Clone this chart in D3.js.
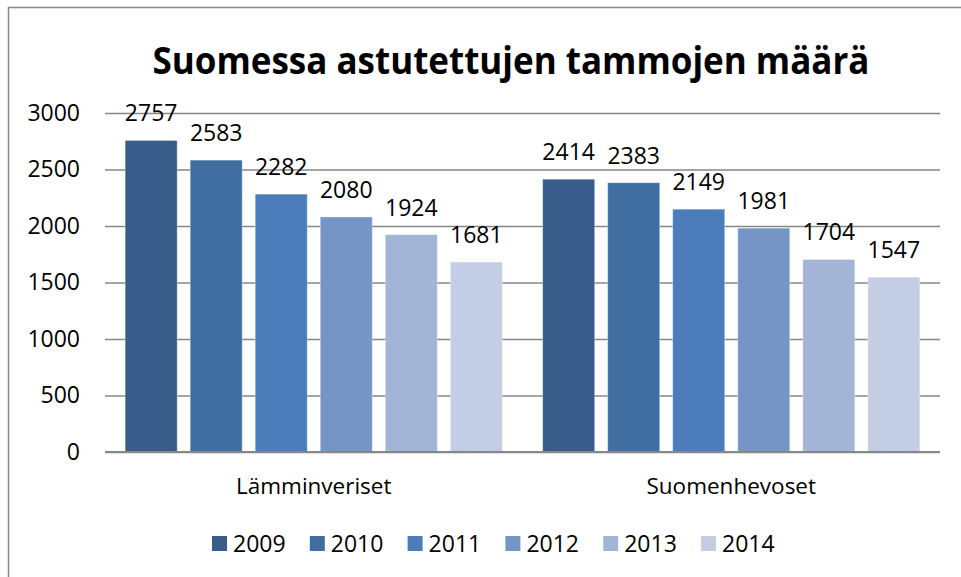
<!DOCTYPE html>
<html>
<head>
<meta charset="utf-8">
<script src="https://cdn.jsdelivr.net/npm/d3@7"></script>
<style>
  body { margin: 0; background: #fff; }
  text { font-family: "Open Sans", sans-serif; fill: #000; }
</style>
</head>
<body>
<div id="chart"></div>
<script>
var categories = ["Lämminveriset", "Suomenhevoset"];
var years = ["2009", "2010", "2011", "2012", "2013", "2014"];
var values2009 = [2757, 2414];
var values2010 = [2583, 2383];
var values2011 = [2282, 2149];
var values2012 = [2080, 1981];
var values2013 = [1924, 1704];
var values2014 = [1681, 1547];
var yTicks = [0, 500, 1000, 1500, 2000, 2500, 3000];
var colors = ["#385d8a", "#416ea1", "#4a7dba", "#7495c6", "#a3b5d6", "#c3cde3"];

var series = [values2009, values2010, values2011, values2012, values2013, values2014];

var width = 961, height = 577;
var plot = {left: 105, right: 940, top: 113, bottom: 452};

var svg = d3.select("#chart").append("svg")
  .attr("width", width)
  .attr("height", height);

// chart frame (only top and left visible in the crop)
svg.append("rect")
  .attr("x", 8.5).attr("y", 7.5)
  .attr("width", 1000).attr("height", 1000)
  .attr("fill", "none")
  .attr("stroke", "#878787")
  .attr("stroke-width", 1.5);

var x0 = d3.scaleBand()
  .domain(categories)
  .range([plot.left, plot.right])
  .padding(0);

var x1 = d3.scaleBand()
  .domain(years)
  .range([0, x0.bandwidth()])
  .paddingInner(0.2)
  .paddingOuter(0.31);

var y = d3.scaleLinear()
  .domain([0, 3000])
  .range([plot.bottom, plot.top]);

// y axis with gridlines
var yAxis = svg.append("g")
  .attr("transform", "translate(" + plot.left + ",0)")
  .call(d3.axisLeft(y)
    .tickValues(yTicks)
    .tickSize(-(plot.right - plot.left))
    .tickPadding(25)
    .tickFormat(d3.format("d")));
yAxis.select(".domain").remove();
yAxis.selectAll(".tick line")
  .attr("stroke", "#878787")
  .attr("stroke-width", 1.5);
yAxis.selectAll(".tick text")
  .style("font-size", "23px")
  .attr("fill", "#000");

// bars
var groups = svg.selectAll(".group")
  .data(categories)
  .enter()
  .append("g")
  .attr("class", "group")
  .attr("transform", function(d) { return "translate(" + x0(d) + ",0)"; });

groups.selectAll(".bar")
  .data(function(d, ci) {
    return years.map(function(yr, si) { return {year: yr, si: si, value: series[si][ci]}; });
  })
  .enter()
  .append("rect")
  .attr("class", "bar")
  .attr("x", function(d) { return x1(d.year); })
  .attr("width", x1.bandwidth())
  .attr("y", function(d) { return y(d.value); })
  .attr("height", function(d) { return y(0) - y(d.value); })
  .attr("fill", function(d) { return colors[d.si]; })
  .attr("stroke", "rgba(255,255,255,0.35)")
  .attr("stroke-width", 1);

groups.selectAll(".label")
  .data(function(d, ci) {
    return years.map(function(yr, si) { return {year: yr, value: series[si][ci]}; });
  })
  .enter()
  .append("text")
  .attr("class", "label")
  .attr("x", function(d) { return x1(d.year) + x1.bandwidth() / 2; })
  .attr("y", function(d) { return y(d.value) - 19; })
  .attr("text-anchor", "middle")
  .style("font-size", "23px")
  .text(function(d) { return d.value; });

// baseline
svg.append("line")
  .attr("x1", plot.left).attr("x2", plot.right)
  .attr("y1", y(0)).attr("y2", y(0))
  .attr("stroke", "#878787")
  .attr("stroke-width", 2);

// category labels
svg.selectAll(".cat")
  .data(categories)
  .enter()
  .append("text")
  .attr("class", "cat")
  .attr("x", function(d) { return x0(d) + x0.bandwidth() / 2; })
  .attr("y", 494)
  .attr("text-anchor", "middle")
  .style("font-size", "22.5px")
  .text(function(d) { return d; });

// title
svg.append("text")
  .attr("x", 511)
  .attr("y", 74)
  .attr("text-anchor", "middle")
  .style("font-size", "38px")
  .style("font-weight", "bold")
  .attr("textLength", 717)
  .attr("lengthAdjust", "spacingAndGlyphs")
  .text("Suomessa astutettujen tammojen määrä");

// legend
var legend = svg.selectAll(".legend")
  .data(years)
  .enter()
  .append("g")
  .attr("class", "legend")
  .attr("transform", function(d, i) { return "translate(" + (212 + i * 97.8) + ",536)"; });

legend.append("rect")
  .attr("width", 15)
  .attr("height", 15)
  .attr("fill", function(d, i) { return colors[i]; });

legend.append("text")
  .attr("x", 21)
  .attr("y", 16)
  .style("font-size", "23px")
  .text(function(d) { return d; });
</script>
</body>
</html>
